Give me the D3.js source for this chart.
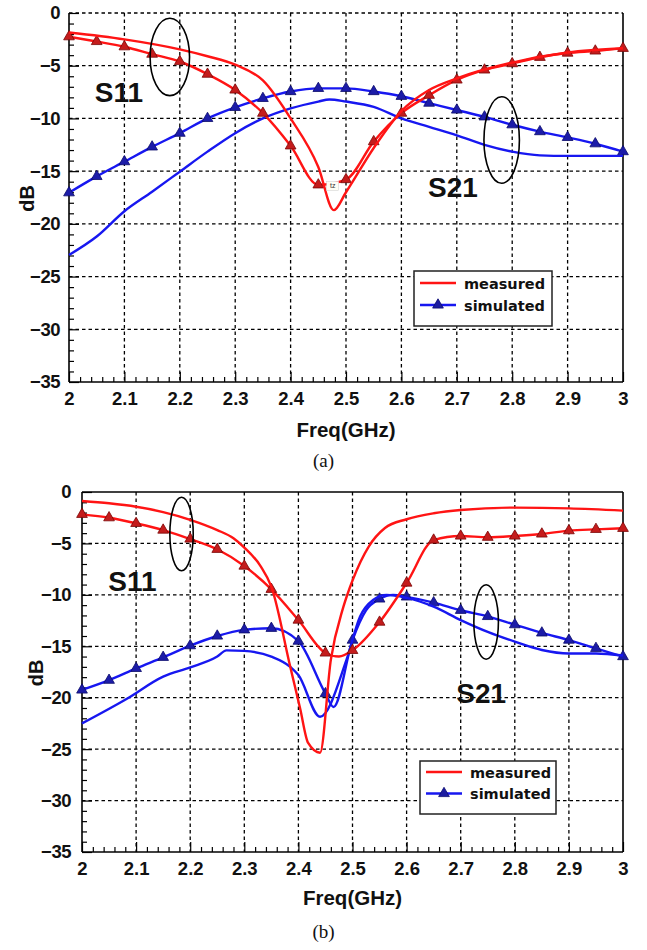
<!DOCTYPE html>
<html>
<head>
<meta charset="utf-8">
<script src="https://cdn.jsdelivr.net/npm/d3@7"></script>
<style>
  body { margin: 0; background: #fff; }
  svg text { font-family: "Liberation Sans", Arial, sans-serif; }
</style>
</head>
<body>
<svg id="chart" width="647" height="950"></svg>
<script>
// ---- shared axis values ----
const xTicks = [2, 2.1, 2.2, 2.3, 2.4, 2.5, 2.6, 2.7, 2.8, 2.9, 3];
const yTicks = [0, -5, -10, -15, -20, -25, -30, -35];
const markerFreq = [2, 2.05, 2.1, 2.15, 2.2, 2.25, 2.3, 2.35, 2.4, 2.45, 2.5,
                    2.55, 2.6, 2.65, 2.7, 2.75, 2.8, 2.85, 2.9, 2.95, 3];

// ---- panel (a) ----
const aS11SimDb = [-2.25, -2.7, -3.2, -3.9, -4.6, -5.8, -7.3, -9.5, -12.6, -16.3, -15.8,
                   -12.2, -9.5, -7.8, -6.35, -5.4, -4.8, -4.2, -3.8, -3.6, -3.35];
const aS21SimDb = [-17.05, -15.5, -14.1, -12.7, -11.4, -10.0, -8.95, -8.1, -7.45, -7.15, -7.15,
                   -7.45, -7.9, -8.55, -9.2, -9.85, -10.6, -11.25, -11.8, -12.4, -13.15];
const aS11MeasF  = [2, 2.1, 2.2, 2.25, 2.3, 2.35, 2.4, 2.45, 2.478, 2.5, 2.55, 2.6, 2.65, 2.7, 2.8, 2.9, 3];
const aS11MeasDb = [-1.85, -2.5, -3.45, -4.1, -4.9, -6.4, -10.0, -14.6, -18.7, -17.0, -12.8, -9.3, -7.3, -6.2, -4.7, -3.75, -3.35];
const aS21MeasF  = [2, 2.05, 2.1, 2.15, 2.2, 2.25, 2.3, 2.35, 2.4, 2.45, 2.47, 2.5, 2.55, 2.6, 2.65, 2.7, 2.75, 2.8, 2.85, 2.9, 2.95, 3];
const aS21MeasDb = [-22.95, -21.2, -18.8, -16.95, -15.05, -13.15, -11.4, -10.0, -9.05, -8.4, -8.2, -8.4, -8.9, -10.0, -10.8, -11.6, -12.5, -13.15, -13.5, -13.55, -13.55, -13.55];

// ---- panel (b) ----
const bS11SimF  = markerFreq.slice(0, 10).concat([2.475], markerFreq.slice(10));
const bS11SimDb = [-2.17, -2.5, -3.05, -3.7, -4.57, -5.57, -7.2, -9.46, -12.45, -15.65, -16.0, -15.4,
                   -12.65, -8.85, -4.67, -4.28, -4.4, -4.28, -4.08, -3.76, -3.63, -3.53];
const bS21SimF  = [2, 2.05, 2.1, 2.15, 2.2, 2.25, 2.3, 2.35, 2.4, 2.45, 2.465, 2.5, 2.525, 2.55,
                   2.575, 2.6, 2.65, 2.7, 2.75, 2.8, 2.85, 2.9, 2.95, 3];
const bS21SimDb = [-19.25, -18.3, -17.15, -16.07, -14.94, -14.0, -13.4, -13.25, -14.5, -19.6, -20.9, -14.4, -11.5, -10.4,
                   -10.0, -10.2, -10.76, -11.5, -12.1, -12.9, -13.7, -14.4, -15.2, -16.0];
const bS11MeasF  = [2, 2.05, 2.1, 2.15, 2.2, 2.25, 2.28, 2.3, 2.33, 2.35, 2.385, 2.403, 2.418, 2.44,
                    2.46, 2.483, 2.5, 2.53, 2.56, 2.6, 2.65, 2.7, 2.8, 2.9, 3];
const bS11MeasDb = [-0.88, -1.1, -1.43, -1.95, -2.7, -3.7, -4.5, -5.4, -7.2, -9.2, -17.0, -21.0, -24.4, -25.35,
                    -16.3, -11.2, -8.6, -5.3, -3.5, -2.65, -2.07, -1.75, -1.52, -1.59, -1.81];
const bS21MeasF  = [2, 2.083, 2.15, 2.2, 2.25, 2.267, 2.3, 2.35, 2.385, 2.4, 2.44, 2.489, 2.514, 2.538,
                    2.563, 2.6, 2.65, 2.7, 2.75, 2.8, 2.85, 2.9, 2.95, 3];
const bS21MeasDb = [-22.5, -20.1, -17.95, -17.05, -16.0, -15.4, -15.45, -16.0, -17.0, -17.8, -21.85, -16.3, -12.1, -10.5,
                    -10.0, -10.3, -11.15, -12.45, -13.6, -14.55, -15.36, -15.7, -15.7, -15.9];

const RED = "#ff1414";
const BLUE = "#1717f0";

const svg = d3.select("#chart");

function zip(f, db) { return f.map((v, i) => [v, db[i]]); }

function drawPanel(cfg) {
  const x = d3.scaleLinear().domain([2, 3]).range([cfg.left, cfg.right]);
  const y = d3.scaleLinear().domain([-35, 0]).range([cfg.bottom, cfg.top]);
  const g = svg.append("g");

  // dashed grid at major ticks
  const grid = g.append("g")
    .attr("stroke", "#000")
    .attr("stroke-width", 1.3)
    .attr("stroke-dasharray", "3.5,3");
  grid.selectAll(".vg").data(xTicks.slice(1, -1)).join("line")
    .attr("x1", d => x(d)).attr("x2", d => x(d))
    .attr("y1", cfg.top).attr("y2", cfg.bottom);
  grid.selectAll(".hg").data(cfg.topDashed ? yTicks.slice(0, -1) : yTicks.slice(1, -1)).join("line")
    .attr("x1", cfg.left).attr("x2", cfg.right)
    .attr("y1", d => y(d)).attr("y2", d => y(d));

  // inward ticks
  const xMinor = d3.range(2, 3.001, 0.02).filter(v => Math.abs(v * 10 - Math.round(v * 10)) > 1e-6);
  const yMinor = d3.range(-35, 0.5, 1).filter(v => v % 5 !== 0);

  const styleTicks = sel => {
    sel.select(".domain").remove();
    sel.selectAll(".tick line").attr("stroke", "#000").attr("stroke-width", 1.2);
  };
  g.append("g").attr("transform", `translate(0,${cfg.bottom})`)
    .call(d3.axisBottom(x).tickValues(xMinor).tickSize(-5).tickFormat(""))
    .call(styleTicks);
  g.append("g").attr("transform", `translate(0,${cfg.bottom})`)
    .call(d3.axisBottom(x).tickValues(xTicks).tickSize(-10).tickFormat(""))
    .call(styleTicks);
  g.append("g").attr("transform", `translate(${cfg.left},0)`)
    .call(d3.axisLeft(y).tickValues(yMinor).tickSize(-5).tickFormat(""))
    .call(styleTicks);
  g.append("g").attr("transform", `translate(${cfg.left},0)`)
    .call(d3.axisLeft(y).tickValues(yTicks).tickSize(-10).tickFormat(""))
    .call(styleTicks);

  // tick labels
  const xLab = g.append("g").attr("transform", `translate(0,${cfg.bottom})`)
    .call(d3.axisBottom(x).tickValues(xTicks).tickSize(0).tickPadding(cfg.xPad).tickFormat(d3.format("")));
  xLab.select(".domain").remove();
  xLab.selectAll("text")
    .attr("fill", "#111")
    .style("font-size", "18.5px")
    .style("font-weight", "bold")
    .style("font-family", "'Liberation Sans', Arial, sans-serif");

  const yLab = g.append("g").attr("transform", `translate(${cfg.left},0)`)
    .call(d3.axisLeft(y).tickValues(yTicks).tickSize(0).tickPadding(cfg.yPad));
  yLab.select(".domain").remove();
  yLab.selectAll("text")
    .attr("fill", "#111")
    .style("font-size", "18.5px")
    .style("font-weight", "bold")
    .style("letter-spacing", "-0.5px")
    .style("font-family", "'Liberation Sans', Arial, sans-serif");

  // frame
  const frame = g.append("g").attr("stroke", "#000").attr("stroke-width", 1.6);
  frame.append("line").attr("x1", cfg.left).attr("x2", cfg.left).attr("y1", cfg.top).attr("y2", cfg.bottom);
  frame.append("line").attr("x1", cfg.left).attr("x2", cfg.right).attr("y1", cfg.bottom).attr("y2", cfg.bottom);
  frame.append("line").attr("x1", cfg.right).attr("x2", cfg.right).attr("y1", cfg.top).attr("y2", cfg.bottom);
  if (!cfg.topDashed) {
    frame.append("line").attr("x1", cfg.left).attr("x2", cfg.right).attr("y1", cfg.top).attr("y2", cfg.top);
  }

  // curves
  const line = d3.line()
    .x(d => x(d[0]))
    .y(d => y(d[1]))
    .curve(d3.curveMonotoneX);

  const tri = d3.symbol().type(d3.symbolTriangle).size(50);
  const isMarker = f => markerFreq.some(m => Math.abs(m - f) < 1e-6);

  cfg.series.forEach(s => {
    const pts = zip(s.f, s.db);
    g.append("path")
      .datum(pts)
      .attr("fill", "none")
      .attr("stroke", s.color)
      .attr("stroke-width", 2.4)
      .attr("stroke-linejoin", "round")
      .attr("d", line);
    if (s.markers) {
      g.append("g").selectAll("path")
        .data(pts.filter(p => isMarker(p[0])))
        .join("path")
        .attr("transform", d => `translate(${x(d[0])},${y(d[1])})`)
        .attr("d", tri)
        .attr("fill", s.markerFill)
        .attr("stroke", s.markerStroke)
        .attr("stroke-width", 0.8);
    }
  });

  // annotation note box (panel a only)
  if (cfg.note) {
    const nx = x(cfg.note[0]), ny = y(cfg.note[1]);
    g.append("rect")
      .attr("x", nx - 6).attr("y", ny - 4.5)
      .attr("width", 12).attr("height", 9)
      .attr("fill", "#fffef4").attr("stroke", "#ccc").attr("stroke-width", 0.5);
    g.append("text")
      .attr("x", nx).attr("y", ny + 2.5)
      .attr("text-anchor", "middle")
      .style("font-size", "7px")
      .attr("fill", "#333")
      .text("tz");
  }

  // ellipses around curve pairs
  g.append("g").selectAll("ellipse")
    .data(cfg.ellipses)
    .join("ellipse")
    .attr("cx", d => x(d.f))
    .attr("cy", d => y(d.db))
    .attr("rx", d => x(2 + d.rf) - x(2))
    .attr("ry", d => y(-35) - y(-35 + d.rdb))
    .attr("fill", "none")
    .attr("stroke", "#000")
    .attr("stroke-width", 1.6);

  // S11 / S21 labels
  g.append("g").selectAll("text")
    .data(cfg.labels)
    .join("text")
    .attr("x", d => x(d.f))
    .attr("y", d => y(d.db))
    .attr("text-anchor", "middle")
    .style("font-size", "28px")
    .style("font-weight", "bold")
    .attr("fill", "#111")
    .text(d => d.text);

  // legend
  const lg = g.append("g").attr("transform", `translate(${cfg.legend.x},${cfg.legend.y})`);
  lg.append("rect")
    .attr("width", cfg.legend.w).attr("height", cfg.legend.h)
    .attr("fill", "#fff").attr("stroke", "#222").attr("stroke-width", 1.5);
  const rows = [
    { text: "measured", color: RED, marker: false },
    { text: "simulated", color: BLUE, marker: true }
  ];
  rows.forEach((r, i) => {
    const ry = cfg.legend.row0 + i * cfg.legend.rowGap;
    lg.append("line")
      .attr("x1", 6).attr("x2", 42).attr("y1", ry).attr("y2", ry)
      .attr("stroke", r.color).attr("stroke-width", 2.4);
    if (r.marker) {
      lg.append("path")
        .attr("transform", `translate(24,${ry})`)
        .attr("d", tri)
        .attr("fill", "#1c1ca0")
        .attr("stroke", "#0a0a70")
        .attr("stroke-width", 0.8);
    }
    lg.append("text")
      .attr("x", 50).attr("y", ry + 5.5)
      .style("font-family", "'DejaVu Sans', Verdana, sans-serif")
      .style("font-size", "14.5px")
      .style("font-weight", "bold")
      .attr("fill", "#111")
      .text(r.text);
  });

  // axis titles
  g.append("text")
    .attr("transform", `translate(${cfg.dbX},${(cfg.top + cfg.bottom) / 2 + 1}) rotate(-90)`)
    .attr("text-anchor", "middle")
    .style("font-size", "20px")
    .style("font-weight", "bold")
    .attr("fill", "#111")
    .text("dB");
  g.append("text")
    .attr("x", (cfg.left + cfg.right) / 2)
    .attr("y", cfg.freqY)
    .attr("text-anchor", "middle")
    .style("font-size", "20.5px")
    .style("font-weight", "bold")
    .attr("fill", "#111")
    .text("Freq(GHz)");

  // caption
  g.append("text")
    .attr("x", 323.5)
    .attr("y", cfg.capY)
    .attr("text-anchor", "middle")
    .style("font-family", "'Liberation Serif', 'Times New Roman', serif")
    .style("font-size", "19px")
    .attr("fill", "#111")
    .text(cfg.caption);
}

const simS11Style = { color: RED, markers: true, markerFill: "#c41c1c", markerStroke: "#7a0505" };
const simS21Style = { color: BLUE, markers: true, markerFill: "#1c1ca8", markerStroke: "#0a0a6a" };

drawPanel({
  left: 69, right: 623, top: 13, bottom: 382,
  topDashed: true, xPad: 10, yPad: 9,
  dbX: 33.5, freqY: 437, capY: 467, caption: "(a)",
  series: [
    Object.assign({ f: markerFreq, db: aS21SimDb }, simS21Style),
    { f: aS21MeasF, db: aS21MeasDb, color: BLUE },
    Object.assign({ f: markerFreq, db: aS11SimDb }, simS11Style),
    { f: aS11MeasF, db: aS11MeasDb, color: RED }
  ],
  note: [2.476, -16.4],
  ellipses: [
    { f: 2.182, db: -4.17, rf: 0.0356, rdb: 3.67 },
    { f: 2.781, db: -12.05, rf: 0.032, rdb: 4.1 }
  ],
  labels: [
    { text: "S11", f: 2.09, db: -8.41 },
    { text: "S21", f: 2.693, db: -17.42 }
  ],
  legend: { x: 414, y: 271, w: 138, h: 55, row0: 12, rowGap: 22 }
});

drawPanel({
  left: 82, right: 623, top: 492, bottom: 852,
  topDashed: false, xPad: 10, yPad: 11,
  dbX: 43.3, freqY: 905, capY: 938, caption: "(b)",
  series: [
    Object.assign({ f: bS21SimF, db: bS21SimDb }, simS21Style),
    { f: bS21MeasF, db: bS21MeasDb, color: BLUE },
    Object.assign({ f: bS11SimF, db: bS11SimDb }, simS11Style),
    { f: bS11MeasF, db: bS11MeasDb, color: RED }
  ],
  note: null,
  ellipses: [
    { f: 2.184, db: -4.08, rf: 0.0216, rdb: 3.57 },
    { f: 2.747, db: -12.64, rf: 0.0227, rdb: 3.62 }
  ],
  labels: [
    { text: "S11", f: 2.0933, db: -9.62 },
    { text: "S21", f: 2.7378, db: -20.51 }
  ],
  legend: { x: 420, y: 761, w: 136, h: 53, row0: 11, rowGap: 21.5 }
});
</script>
</body>
</html>
